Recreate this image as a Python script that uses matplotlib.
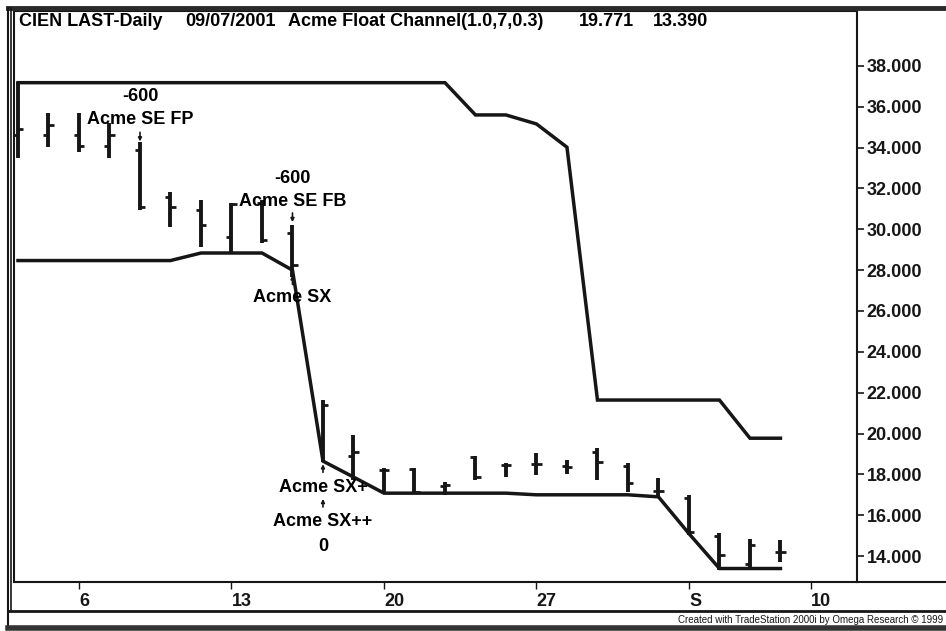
import matplotlib
matplotlib.use('Agg')
import matplotlib.pyplot as plt
from matplotlib.lines import Line2D
import numpy as np

plt.rcParams['font.family'] = ['Liberation Sans', 'DejaVu Sans']
plt.rcParams['font.weight'] = 'bold'

# daily bars, 02 Aug 2001 .. 07 Sep 2001
opens = [34.6, 34.6, 34.6, 34.1, 33.9, 31.6, 30.95, 29.6, 31.3, 29.8,
         19.7, 18.9, 18.2, 18.25, 17.45, 18.85, 18.45, 18.5, 18.4, 19.1,
         18.4, 17.2, 16.85, 15.0, 13.6, 14.2]
highs = [37.2, 35.7, 35.7, 35.2, 34.28, 31.83, 31.44, 31.3, 31.44, 30.2,
         21.64, 19.93, 18.3, 18.3, 17.65, 18.9, 18.56, 19.05, 18.7, 19.3,
         18.56, 17.8, 16.99, 15.13, 14.84, 14.8]
lows = [33.5, 34.03, 33.8, 33.5, 30.95, 30.12, 29.14, 28.84, 29.33, 27.67,
        18.62, 17.73, 17.09, 17.09, 16.99, 17.73, 17.87, 17.97, 18.0, 17.73,
        17.14, 16.9, 15.03, 13.3, 13.42, 13.7]
closes = [34.9, 35.11, 34.08, 34.6, 31.1, 31.1, 30.2, 31.25, 29.48, 28.25,
          21.4, 19.1, 18.2, 17.15, 17.5, 17.85, 18.45, 18.5, 18.35, 18.6,
          17.6, 17.2, 15.2, 14.06, 14.55, 14.2]
upper = [37.18] * 15 + [35.6, 35.6, 35.16, 34.02, 21.64, 21.64, 21.64, 21.64, 21.64, 19.771, 19.771]
lower = [28.47] * 6 + [28.84, 28.84, 28.84, 28.0, 18.65, 17.87, 17.08, 17.08, 17.08, 17.08, 17.08,
                       17.0, 17.0, 17.0, 17.0, 16.9, 15.1, 13.39, 13.39, 13.39]

tick_pos = [2, 7, 12, 17, 22, 26]
tick_lab = ['6', '13', '20', '27', 'S', '10']
yticks = [14, 16, 18, 20, 22, 24, 26, 28, 30, 32, 34, 36, 38]

W, H = 946, 631
def fx(x):
    return x / W
def fy(y):
    return 1 - y / H

fig = plt.figure(figsize=(9.46, 6.31), dpi=100)
ax = fig.add_axes([fx(14), fy(582), fx(857) - fx(14), fy(11) - fy(582)])

idx = np.arange(len(opens))
ink = '#161616'
ax.plot(idx, upper, color=ink, lw=2.5, solid_joinstyle='miter')
ax.plot(idx, lower, color=ink, lw=2.5, solid_joinstyle='miter')
ax.vlines(idx, lows, highs, color=ink, lw=2.8)
ax.hlines(opens, idx - 0.17, idx, color=ink, lw=2)
ax.hlines(closes, idx, idx + 0.17, color=ink, lw=2)

ax.set_xlim(-0.131, 27.51)
ax.set_ylim(12.73, 40.69)

fs = 13
# trade labels
ax.text(4, 36.48, '-600', ha='center', va='center', fontsize=fs, weight='bold')
ax.text(4, 35.36, 'Acme SE FP', ha='center', va='center', fontsize=fs, weight='bold')
ax.text(9, 32.51, '-600', ha='center', va='center', fontsize=fs, weight='bold')
ax.text(9, 31.34, 'Acme SE FB', ha='center', va='center', fontsize=fs, weight='bold')
ax.text(9, 26.64, 'Acme SX', ha='center', va='center', fontsize=fs, weight='bold')
ax.text(10, 17.38, 'Acme SX+', ha='center', va='center', fontsize=fs, weight='bold')
ax.text(10, 15.67, 'Acme SX++', ha='center', va='center', fontsize=fs, weight='bold')
ax.text(10, 14.45, '0', ha='center', va='center', fontsize=fs, weight='bold')

arw = dict(arrowstyle='-|>', lw=1.2, color=ink, mutation_scale=5, shrinkA=0, shrinkB=0)
ax.annotate('', xy=(4, 34.3), xytext=(4, 34.75), arrowprops=arw)
ax.annotate('', xy=(9, 30.35), xytext=(9, 30.8), arrowprops=arw)
ax.annotate('', xy=(9, 27.75), xytext=(9, 27.3), arrowprops=arw)
ax.annotate('', xy=(10, 18.5), xytext=(10, 18.1), arrowprops=arw)
ax.annotate('', xy=(10, 16.8), xytext=(10, 16.4), arrowprops=arw)

# title line
for x, s in [(19, 'CIEN LAST-Daily'), (185, '09/07/2001'),
             (288, 'Acme Float Channel(1.0,7,0.3)'), (579, '19.771'), (653, '13.390')]:
    fig.text(fx(x), fy(21), s, ha='left', va='center', fontsize=fs, weight='bold')

# axes styling
for sp in ax.spines.values():
    sp.set_color(ink)
    sp.set_linewidth(1.5)
ax.yaxis.tick_right()
ax.set_yticks(yticks)
ax.set_yticklabels(['%.3f' % v for v in yticks], fontsize=fs, weight='bold')
ax.tick_params(axis='y', direction='out', length=5, width=1.2, pad=2, colors=ink)
ax.set_xticks(tick_pos)
ax.set_xticklabels(tick_lab, fontsize=fs, weight='bold')
for lbl in ax.get_xticklabels():
    lbl.set_ha('left')
ax.tick_params(axis='x', direction='out', length=5, width=1, pad=3, colors=ink)

# window frame
def fl(x0, y0, x1, y1, lw, c=ink):
    fig.add_artist(Line2D([fx(x0), fx(x1)], [fy(y0), fy(y1)], lw=lw, color=c))

fl(8, 8, 946, 8, 3.5, '#2a2a2a')
fl(8, 8, 8, 628, 1.5)
fl(11, 8, 11, 611, 1.2)
fl(857, 582, 946, 582, 1.5)
fl(8, 611, 946, 611, 2)
fl(8, 628, 946, 628, 4, '#333333')
fig.text(fx(943), fy(620), 'Created with TradeStation 2000i by Omega Research \u00a9 1999',
         ha='right', va='center', fontsize=7, weight='normal', color=ink)

plt.savefig('out.png', dpi=100)
